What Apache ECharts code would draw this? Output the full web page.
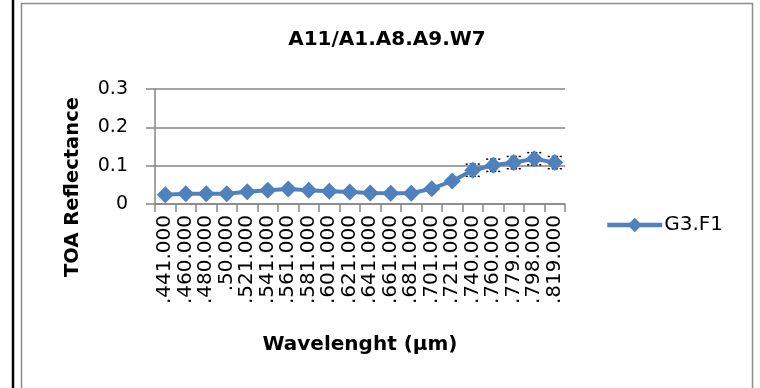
<!DOCTYPE html>
<html>
<head>
<meta charset="utf-8">
<script src="https://cdn.jsdelivr.net/npm/echarts@6/dist/echarts.min.js"></script>
<style>html,body{margin:0;padding:0;background:#fff;}#c{width:760px;height:388px;}</style>
</head>
<body>
<div id="c"></div>
<script>
var categories = ['.441.000','.460.000','.480.000','.50.000','.521.000','.541.000','.561.000','.581.000','.601.000','.621.000','.641.000','.661.000','.681.000','.701.000','.721.000','.740.000','.760.000','.779.000','.798.000','.819.000'];
var values = [0.024,0.027,0.027,0.027,0.032,0.036,0.039,0.036,0.033,0.031,0.029,0.028,0.028,0.040,0.060,0.088,0.101,0.108,0.118,0.108];
var errors = [0,0,0,0,0,0,0,0,0,0,0,0,0,0,0,0.016,0.016,0.016,0.016,0.016];
var yTicks = [0, 0.1, 0.2, 0.3];

var FONT = '"DejaVu Sans", sans-serif';
var chart = echarts.init(document.getElementById('c'), null, {renderer: 'canvas'});
var errData = [];
values.forEach(function (v, i) { if (errors[i] > 0) errData.push([i, v - errors[i], v + errors[i]]); });

chart.setOption({
  animation: false,
  backgroundColor: '#fff',
  title: {
    text: 'A11/A1.A8.A9.W7',
    left: 387, top: 30, textAlign: 'center', padding: 0,
    textStyle: {fontFamily: FONT, fontWeight: 'bold', fontSize: 20, color: '#000'}
  },
  legend: {
    left: 605, top: 215, itemWidth: 55, itemHeight: 18, itemGap: 4, padding: 0,
    data: ['G3.F1'],
    lineStyle: {width: 4.5},
    textStyle: {fontFamily: FONT, fontSize: 20, color: '#000', padding: [0,0,0,-3]}
  },
  grid: {left: 155, right: 195, top: 89, bottom: 184, containLabel: false},
  xAxis: {
    type: 'category',
    data: categories,
    boundaryGap: true,
    name: 'Wavelenght (\u03bcm)',
    nameLocation: 'middle',
    nameGap: 131,
    nameTextStyle: {fontFamily: FONT, fontWeight: 'bold', fontSize: 20, color: '#000'},
    axisLine: {lineStyle: {color: '#868686', width: 1.5}},
    axisTick: {show: true, length: 8, alignWithLabel: false, lineStyle: {color: '#868686', width: 1.5}},
    axisLabel: {rotate: 90, interval: 0, margin: 11, fontFamily: FONT, fontSize: 20, color: '#000'}
  },
  yAxis: {
    type: 'value',
    min: 0, max: 0.3, interval: 0.1,
    axisLine: {show: true, lineStyle: {color: '#868686', width: 1.5}},
    axisTick: {show: true, length: 9, lineStyle: {color: '#868686', width: 1.5}},
    splitLine: {lineStyle: {color: '#868686', width: 1.5}},
    axisLabel: {margin: 27, fontFamily: FONT, fontSize: 19, color: '#000',
      formatter: function (v) { var t = yTicks.filter(function (x) { return Math.abs(x - v) < 1e-9; }); return t.length ? String(t[0]) : ''; }}
  },
  series: [
    {
      type: 'custom',
      name: 'err',
      z: 1,
      data: errData,
      renderItem: function (params, api) {
        var x = api.value(0);
        var lo = api.coord([x, api.value(1)]);
        var hi = api.coord([x, api.value(2)]);
        var w = 7;
        var st = {stroke: '#000', lineWidth: 1.5, lineDash: [2, 2]};
        return {
          type: 'group',
          children: [
            {type: 'line', shape: {x1: lo[0], y1: lo[1], x2: hi[0], y2: hi[1]}, style: st},
            {type: 'line', shape: {x1: lo[0] - w, y1: lo[1], x2: lo[0] + w, y2: lo[1]}, style: st},
            {type: 'line', shape: {x1: hi[0] - w, y1: hi[1], x2: hi[0] + w, y2: hi[1]}, style: st}
          ]
        };
      }
    },
    {
      type: 'line',
      name: 'G3.F1',
      z: 3,
      data: values,
      symbol: 'diamond',
      symbolSize: 17,
      color: '#4F81BD',
      lineStyle: {color: '#4F81BD', width: 4},
      itemStyle: {color: '#4F81BD'}
    }
  ],
  graphic: [
    {type: 'rect', shape: {x: 21.5, y: 3.5, width: 731, height: 400}, style: {fill: null, stroke: '#8c8c8c', lineWidth: 1.5}, silent: true},
    {type: 'line', shape: {x1: 13, y1: 0, x2: 13, y2: 388}, style: {stroke: '#000', lineWidth: 2.5}, silent: true},
    {type: 'text', x: 73, y: 187, rotation: Math.PI / 2,
      style: {text: 'TOA Reflectance', fontFamily: FONT, fontWeight: 'bold', fontSize: 19.5, fill: '#000', textAlign: 'center', textVerticalAlign: 'middle'}}
  ]
});
</script>
</body>
</html>
